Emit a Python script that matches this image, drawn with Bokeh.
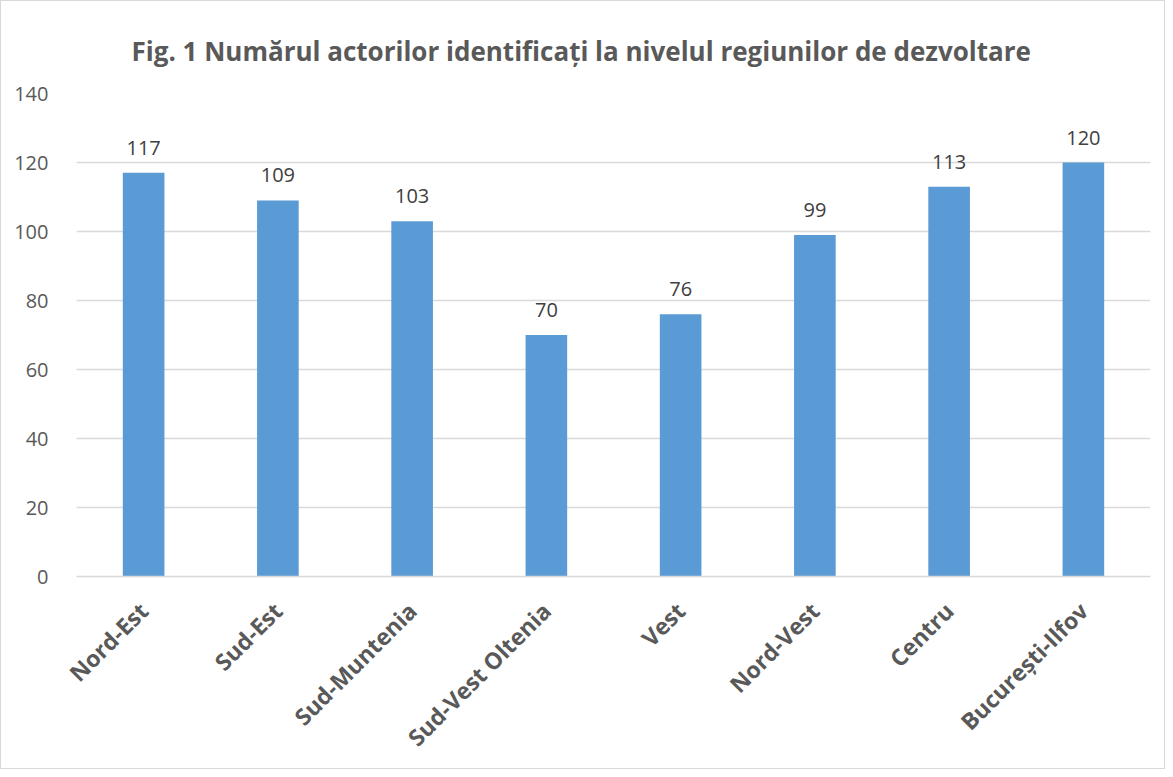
import math
from bokeh.plotting import figure
from bokeh.models import ColumnDataSource, FactorRange, Range1d, SingleIntervalTicker
from bokeh.core.properties import value
from bokeh.embed import file_html
from bokeh.resources import INLINE

regions = ["Nord-Est", "Sud-Est", "Sud-Muntenia", "Sud-Vest Oltenia", "Vest",
           "Nord-Vest", "Centru", "București-Ilfov"]
counts = [117, 109, 103, 70, 76, 99, 113, 120]
title_text = "Fig. 1 Numărul actorilor identificați la nivelul regiunilor de dezvoltare"

FONT = "Open Sans"

src = ColumnDataSource(dict(x=regions, y=counts, lbl=[str(v) for v in counts]))

p = figure(width=1165, height=769, x_range=FactorRange(*regions, range_padding=0),
           y_range=Range1d(0, 140), output_backend="svg", toolbar_location=None,
           min_border_left=75, min_border_right=16, min_border_top=92,
           min_border_bottom=194)
p.styles = {"border": "1px solid #d9d9d9", "box-sizing": "border-box"}

p.title.text = title_text
p.title.align = "left"
p.title.offset = 55
p.title.standoff = 50
p.title.text_font = FONT
p.title.text_font_size = "26px"
p.title.text_font_style = "bold"
p.title.text_color = "#595959"

p.vbar(x="x", top="y", width=0.31, source=src, fill_color="#5B9BD5", line_color=None)
p.text(x="x", y="y", text="lbl", source=src, text_align="center",
       text_baseline="alphabetic", y_offset=-25, text_font=value(FONT),
       text_font_size="20px", text_color="#404040")

p.outline_line_color = None
p.xgrid.grid_line_color = None
p.ygrid.grid_line_color = "#D9D9D9"
p.ygrid.grid_line_width = 1.3

p.yaxis.ticker = SingleIntervalTicker(interval=20)
p.yaxis.axis_line_color = None
p.yaxis.major_tick_line_color = None
p.yaxis.minor_tick_line_color = None
p.yaxis.major_label_standoff = 22
p.yaxis.major_label_text_font = FONT
p.yaxis.major_label_text_font_size = "20px"
p.yaxis.major_label_text_color = "#595959"

p.xaxis.axis_line_color = "#D9D9D9"
p.xaxis.axis_line_width = 1.5
p.xaxis.major_tick_line_color = None
p.xaxis.minor_tick_line_color = None
p.xaxis.major_label_orientation = math.pi / 4
p.xaxis.major_label_standoff = 24
p.xaxis.major_label_text_font = FONT
p.xaxis.major_label_text_font_size = "23px"
p.xaxis.major_label_text_font_style = "bold"
p.xaxis.major_label_text_color = "#595959"

open("out.html", "w").write(file_html(p, INLINE))
